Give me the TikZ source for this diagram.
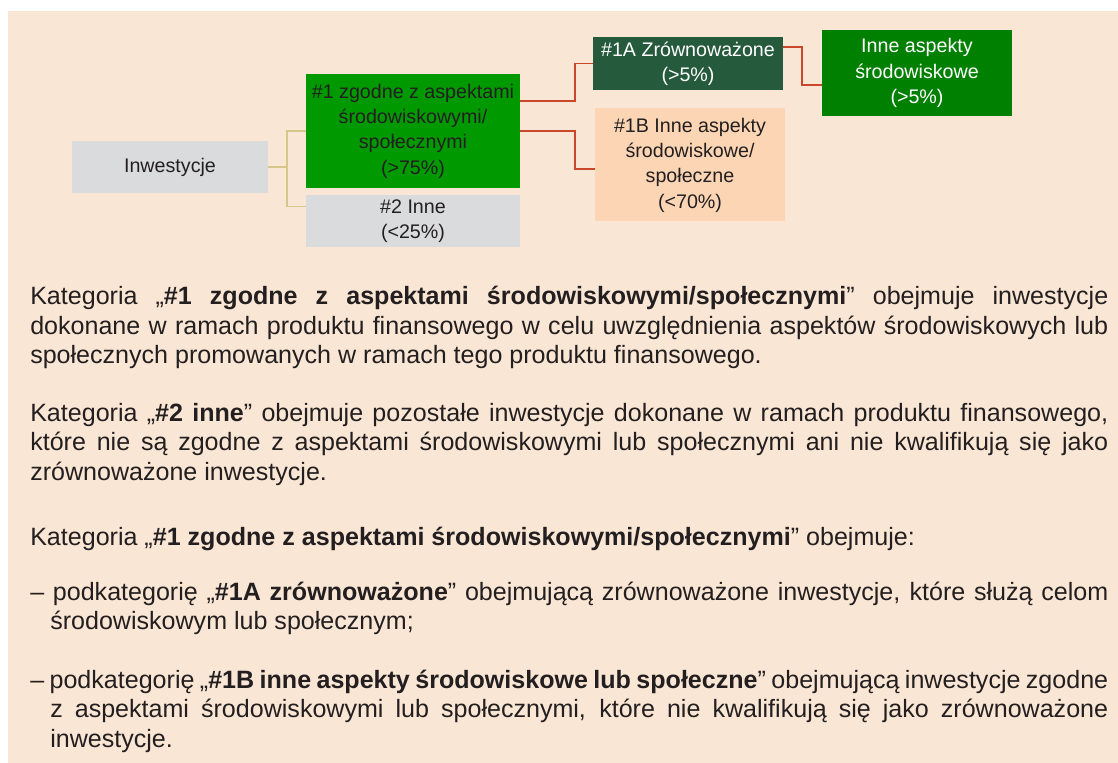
\documentclass[tikz,border=0pt]{standalone}
\usepackage{fontspec}
\setmainfont{Liberation Sans}
\usepackage{tikz}
\usetikzlibrary{positioning}
\definecolor{paper}{HTML}{FAE6D4}
\definecolor{ink}{HTML}{231F20}
\definecolor{greybox}{HTML}{DADBDD}
\definecolor{brightgreen}{HTML}{009900}
\definecolor{darkgreen}{HTML}{265A3C}
\definecolor{midgreen}{HTML}{008000}
\definecolor{peachbox}{HTML}{FCD5B4}
\definecolor{khaki}{HTML}{D6C68A}
\definecolor{rust}{HTML}{C9472A}

\begin{document}
\begin{tikzpicture}[x=0.75pt, y=-0.75pt,
    box/.style={inner sep=0pt, align=center, text=ink,
      font=\fontsize{14.75}{19}\selectfont},
    para/.style={anchor=base west, inner sep=0pt, text width=808.5pt,
      align=justify, text=ink, font=\fontsize{18.8}{22}\selectfont,
      execute at begin node={\hyphenpenalty=10000 \tolerance=9999 \emergencystretch=20pt }},
    trunk/.style={khaki, line width=1.4pt},
    branch/.style={rust, line width=1.4pt}]
  \useasboundingbox (0,0) rectangle (1118,763);
  \fill[paper] (8,11) rectangle (1118,763);

  % tree
  \node[box, fill=greybox, minimum width=147pt, minimum height=39pt] (inw) at (170,167) {Inwestycje};
  \node[box, fill=brightgreen, minimum width=160.5pt, minimum height=85.5pt] (one) at (413,131)
    {\#1 zgodne z aspektami\\ środowiskowymi/\\ społecznymi\\ (>75\%)};
  \node[box, fill=greybox, minimum width=160.5pt, minimum height=39pt] (two) at (413,221.5)
    {\#2 Inne\\ (<25\%)};
  \node[box, fill=darkgreen, text=white, minimum width=142.5pt, minimum height=39.75pt] (oneA) at (688,63.5)
    {\#1A Zrównoważone\\ (>5\%)};
  \node[box, fill=peachbox, minimum width=142.5pt, minimum height=84.75pt] (oneB) at (690,165)
    {\#1B Inne aspekty\\ środowiskowe/\\ społeczne\\ (<70\%)};
  \node[box, fill=midgreen, text=white, minimum width=142.5pt, minimum height=64.5pt] (other) at (917,73)
    {Inne aspekty\\ środowiskowe\\ (>5\%)};

  \draw[trunk] (inw.east) -- ++(19,0);
  \draw[trunk] (one.west) -- ++(-19,0) |- ([yshift=11.25pt]two.west);
  \draw[branch] ([yshift=22.5pt]one.east) -- ++(55,0) |- (oneA.west);
  \draw[branch] (one.east) -- ++(55,0) |- ([yshift=-3pt]oneB.west);
  \draw[branch] ([yshift=12.4pt]oneA.east) -- ++(19,0) |- ([yshift=-9pt]other.west);

  % text below
  \node[para] (p1) at (30,305) {Kategoria „\textbf{\#1 zgodne z aspektami środowiskowymi/społecznymi}” obejmuje inwestycje\linebreak
    dokonane w ramach produktu finansowego w celu uwzględnienia aspektów środowiskowych lub\linebreak
    społecznych promowanych w ramach tego produktu finansowego.};
  \node[para] (p2) at (30,421.5) {Kategoria „\textbf{\#2 inne}” obejmuje pozostałe inwestycje dokonane w ramach produktu finansowego,\linebreak
    które nie są zgodne z aspektami środowiskowymi lub społecznymi ani nie kwalifikują się jako\linebreak
    zrównoważone inwestycje.};
  \node[para] (p3) at (30,545) {Kategoria „\textbf{\#1 zgodne z aspektami środowiskowymi/społecznymi}” obejmuje:};
  \node[para] (b1) at (30,600.5) {\hangindent=15pt \hangafter=1 – podkategorię „\textbf{\#1A zrównoważone}” obejmującą zrównoważone inwestycje, które służą celom\linebreak
    środowiskowym lub społecznym;\par};
  \node[para] (b2) at (30,688.5) {\hangindent=15pt \hangafter=1 – podkategorię „\textbf{\#1B inne aspekty środowiskowe lub społeczne}” obejmującą inwestycje zgodne\linebreak
    z aspektami środowiskowymi lub społecznymi, które nie kwalifikują się jako zrównoważone\linebreak
    inwestycje.\par};
\end{tikzpicture}
\end{document}
